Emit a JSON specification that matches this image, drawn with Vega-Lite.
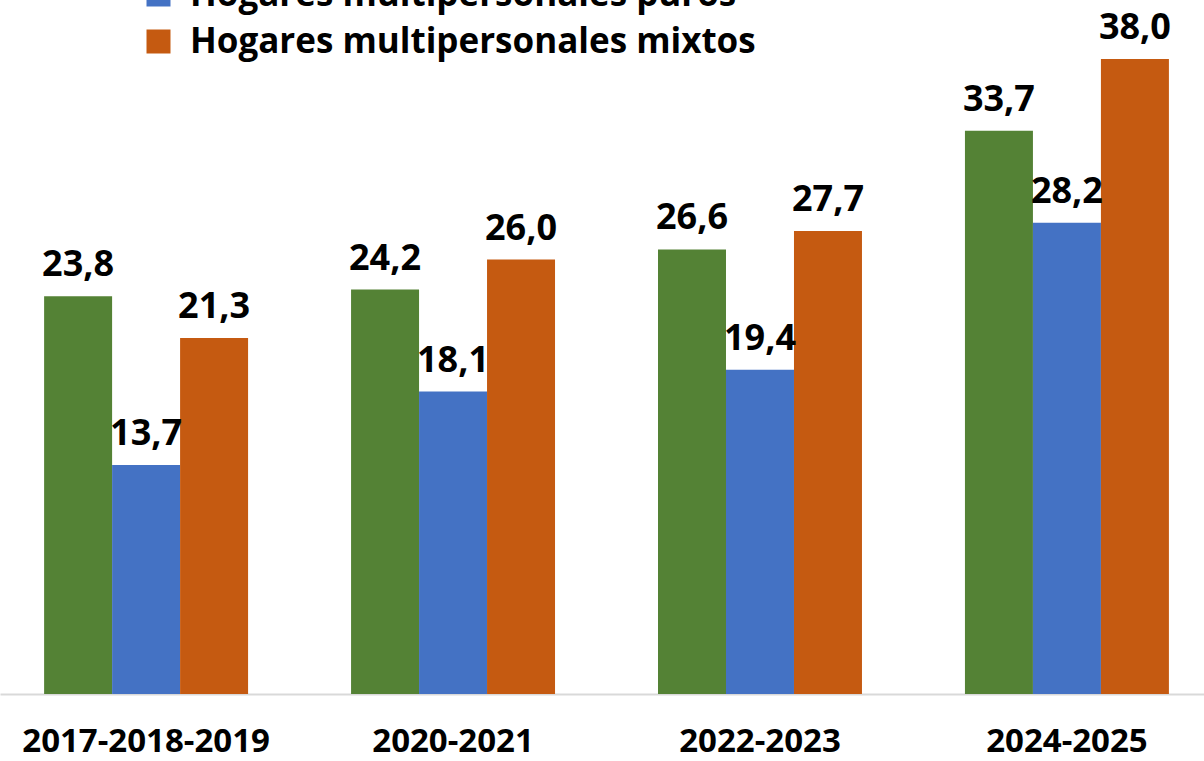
{
  "$schema": "https://vega.github.io/schema/vega-lite/v6.json",
  "width": 1204,
  "height": 694,
  "autosize": {"type": "none"},
  "padding": {"left": 0, "top": 0, "right": 0, "bottom": 67},
  "config": {
    "view": {"stroke": null},
    "font": "Open Sans",
    "locale": {"number": {"decimal": ",", "thousands": ".", "grouping": [3], "currency": ["", " €"]}}
  },
  "data": {
    "values": [
      {"periodo": "2017-2018-2019", "tipo": "Hogares unipersonales", "valor": 23.8},
      {"periodo": "2017-2018-2019", "tipo": "Hogares multipersonales puros", "valor": 13.7},
      {"periodo": "2017-2018-2019", "tipo": "Hogares multipersonales mixtos", "valor": 21.3},
      {"periodo": "2020-2021", "tipo": "Hogares unipersonales", "valor": 24.2},
      {"periodo": "2020-2021", "tipo": "Hogares multipersonales puros", "valor": 18.1},
      {"periodo": "2020-2021", "tipo": "Hogares multipersonales mixtos", "valor": 26.0},
      {"periodo": "2022-2023", "tipo": "Hogares unipersonales", "valor": 26.6},
      {"periodo": "2022-2023", "tipo": "Hogares multipersonales puros", "valor": 19.4},
      {"periodo": "2022-2023", "tipo": "Hogares multipersonales mixtos", "valor": 27.7},
      {"periodo": "2024-2025", "tipo": "Hogares unipersonales", "valor": 33.7},
      {"periodo": "2024-2025", "tipo": "Hogares multipersonales puros", "valor": 28.2},
      {"periodo": "2024-2025", "tipo": "Hogares multipersonales mixtos", "valor": 38.0}
    ]
  },
  "encoding": {
    "x": {
      "field": "periodo",
      "type": "nominal",
      "sort": ["2017-2018-2019", "2020-2021", "2022-2023", "2024-2025"],
      "scale": {"paddingInner": 0.3355, "paddingOuter": 0.129, "align": 0.557},
      "axis": {
        "title": null,
        "labelAngle": 0,
        "ticks": false,
        "domainColor": "#d9d9d9",
        "domainWidth": 2,
        "labelFont": "Open Sans",
        "labelFontWeight": "bold",
        "labelFontSize": 33,
        "labelColor": "#000000",
        "labelLimit": 600,
        "labelPadding": 31
      }
    },
    "xOffset": {
      "field": "tipo",
      "type": "nominal",
      "sort": ["Hogares unipersonales", "Hogares multipersonales puros", "Hogares multipersonales mixtos"],
      "scale": {"paddingInner": 0, "paddingOuter": 0}
    },
    "y": {
      "field": "valor",
      "type": "quantitative",
      "scale": {"domain": [0, 41.53], "nice": false, "zero": true},
      "axis": null
    }
  },
  "layer": [
    {
      "mark": {"type": "bar"},
      "encoding": {
        "color": {
          "field": "tipo",
          "type": "nominal",
          "sort": ["Hogares unipersonales", "Hogares multipersonales puros", "Hogares multipersonales mixtos"],
          "scale": {
            "domain": ["Hogares unipersonales", "Hogares multipersonales puros", "Hogares multipersonales mixtos"],
            "range": ["#548235", "#4472C4", "#C55A11"]
          },
          "legend": {
            "title": null,
            "orient": "none",
            "legendX": 141,
            "legendY": -70,
            "direction": "vertical",
            "symbolType": "square",
            "symbolSize": 576,
            "symbolStrokeWidth": 0,
            "symbolOpacity": 1,
            "labelFont": "Open Sans",
            "labelFontWeight": "bold",
            "labelFontSize": 35,
            "labelColor": "#000000",
            "labelLimit": 800,
            "labelOffset": 14,
            "rowPadding": 11
          }
        }
      }
    },
    {
      "mark": {
        "type": "text",
        "baseline": "alphabetic",
        "dy": -20,
        "font": "Open Sans",
        "fontWeight": "bold",
        "fontSize": 36,
        "color": "#000000"
      },
      "encoding": {
        "text": {"field": "valor", "type": "quantitative", "format": ".1f"}
      }
    }
  ]
}
